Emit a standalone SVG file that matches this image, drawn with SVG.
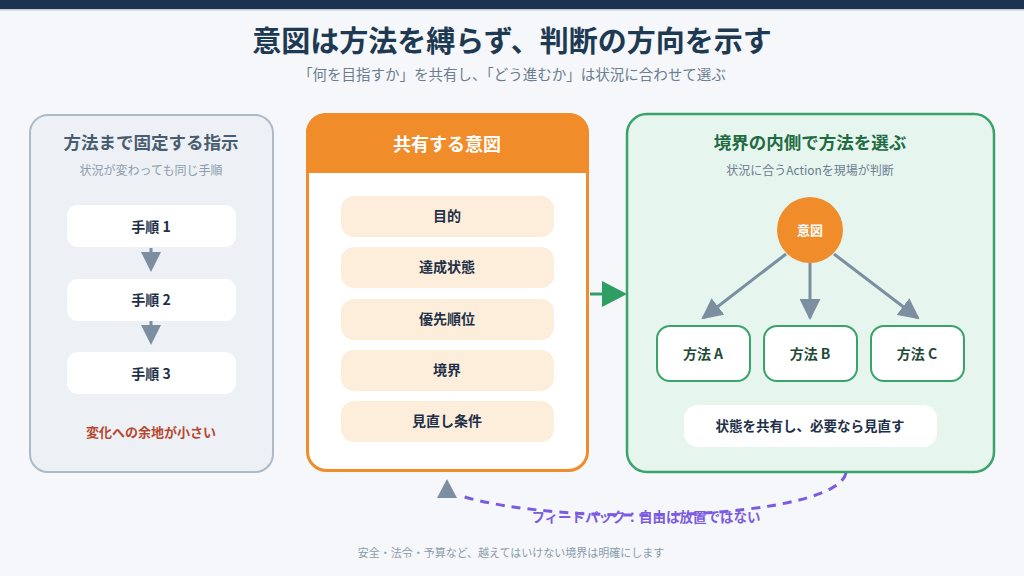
<svg xmlns="http://www.w3.org/2000/svg" width="1024" height="576" viewBox="0 0 1024 576">
<defs>
<style>
text{font-family:"Noto Sans CJK JP","Noto Sans",sans-serif;text-anchor:middle}
.b{font-weight:700}
.step{fill:#fff}
.item{fill:#fdeedb}
.meth{fill:#fff;stroke:#3aa36a;stroke-width:2}
.dk{fill:#1e3048}
</style>
<marker id="ah" viewBox="0 0 10 10" refX="9" refY="5" markerWidth="7" markerHeight="7" markerUnits="strokeWidth" orient="auto"><path d="M0,0 L10,5 L0,10 z" fill="#7b8fa1"/></marker>
</defs>
<rect width="1024" height="576" fill="#f5f7fa"/>
<rect width="1024" height="9" fill="#1b3350"/>
<rect y="9" width="1024" height="1.5" fill="#c4ccd6"/>
<text x="512" y="52" class="b" font-size="29" fill="#1e3a52">意図は方法を縛らず、判断の方向を示す</text>
<text x="512" y="80" font-size="14.5" fill="#6b7d8f">「何を目指すか」を共有し、「どう進むか」は状況に合わせて選ぶ</text>

<g id="fixed">
<rect x="30" y="115" width="243" height="357" rx="18" fill="#edf1f6" stroke="#adbac8" stroke-width="2"/>
<text x="151" y="149" class="b" font-size="17.5" fill="#4a5d70">方法まで固定する指示</text>
<text x="151" y="175" font-size="12" fill="#8b9bab">状況が変わっても同じ手順</text>
<rect class="step" x="67" y="205" width="169" height="42" rx="11"/>
<text x="151" y="232" class="b dk" font-size="14">手順 1</text>
<rect class="step" x="67" y="279" width="169" height="42" rx="11"/>
<text x="151" y="305" class="b dk" font-size="14">手順 2</text>
<rect class="step" x="67" y="352" width="169" height="42" rx="11"/>
<text x="151" y="379" class="b dk" font-size="14">手順 3</text>
<text x="151" y="437" class="b" font-size="13" fill="#b5472e">変化への余地が小さい</text>
</g>

<g id="intent">
<path d="M306,173 V133 A20,20 0 0 1 326,113 H569 A20,20 0 0 1 589,133 V173 Z" fill="#f08c2a"/>
<path d="M307.5,173 H587.5 V451.5 A19,19 0 0 1 568.5,470.5 H326.5 A19,19 0 0 1 307.5,451.5 Z" fill="#fff"/>
<rect x="307.5" y="114.5" width="280" height="356" rx="19" fill="none" stroke="#f08c2a" stroke-width="3"/>
<text x="447" y="151" class="b" font-size="18" fill="#fff">共有する意図</text>
<rect class="item" x="341" y="196" width="213" height="41" rx="13"/>
<text x="447" y="221" class="b dk" font-size="14">目的</text>
<rect class="item" x="341" y="247" width="213" height="41" rx="13"/>
<text x="447" y="272" class="b dk" font-size="14">達成状態</text>
<rect class="item" x="341" y="299" width="213" height="41" rx="13"/>
<text x="447" y="324" class="b dk" font-size="14">優先順位</text>
<rect class="item" x="341" y="350" width="213" height="41" rx="13"/>
<text x="447" y="375" class="b dk" font-size="14">境界</text>
<rect class="item" x="341" y="401" width="213" height="41" rx="13"/>
<text x="447" y="426" class="b dk" font-size="14">見直し条件</text>
</g>

<g id="choose">
<rect x="627" y="114" width="367" height="358" rx="20" fill="#e6f5ee" stroke="#3aa36a" stroke-width="2.5"/>
<text x="810" y="149" class="b" font-size="17.5" fill="#1f6b42">境界の内側で方法を選ぶ</text>
<text x="810" y="175" font-size="12" fill="#6b7d8f">状況に合うActionを現場が判断</text>
</g>
<g id="core">
<circle cx="810" cy="230" r="33" fill="#f08c2a"/>
<text x="810" y="235" class="b" font-size="13" fill="#fff">意図</text>
</g>
<g id="methodA">
<rect class="meth" x="657" y="326" width="93" height="55" rx="13"/>
<text x="703" y="359" class="b" font-size="14" fill="#1f4a38">方法 A</text>
</g>
<g id="methodB">
<rect class="meth" x="764" y="326" width="93" height="55" rx="13"/>
<text x="810" y="359" class="b" font-size="14" fill="#1f4a38">方法 B</text>
</g>
<g id="methodC">
<rect class="meth" x="871" y="326" width="93" height="55" rx="13"/>
<text x="917" y="359" class="b" font-size="14" fill="#1f4a38">方法 C</text>
</g>
<g id="review">
<rect x="684" y="405" width="253" height="42" rx="14" fill="#fff"/>
<text x="810" y="431" class="b dk" font-size="13.5">状態を共有し、必要なら見直す</text>
</g>

<g id="connectors">
<line x1="151" y1="248" x2="151" y2="253" stroke="#7b8fa1" stroke-width="3"/>
<path d="M141,252 L161,252 L151,272 Z" fill="#7b8fa1"/>
<line x1="151" y1="321" x2="151" y2="326" stroke="#7b8fa1" stroke-width="3"/>
<path d="M141,325 L161,325 L151,345 Z" fill="#7b8fa1"/>
<line x1="590" y1="294" x2="604" y2="294" stroke="#2e9e63" stroke-width="3"/>
<path d="M602,281 L627,294 L602,307 Z" fill="#2e9e63"/>
<line x1="786" y1="254" x2="703" y2="318" stroke="#7b8fa1" stroke-width="3" marker-end="url(#ah)"/>
<line x1="810" y1="263" x2="810" y2="318" stroke="#7b8fa1" stroke-width="3" marker-end="url(#ah)"/>
<line x1="834" y1="254" x2="918" y2="318" stroke="#7b8fa1" stroke-width="3" marker-end="url(#ah)"/>
<path d="M846,473 C836,520 560,528 458,495" fill="none" stroke="#7b5ce0" stroke-width="3" stroke-dasharray="9 7"/>
<path d="M437,498 L457,498 L447,479 Z" fill="#7b8fa1"/>
<text x="646" y="522" class="b" font-size="13.5" fill="#7b5ce0">フィードバック：自由は放置ではない</text>
</g>
<text x="511" y="557" font-size="11" fill="#8b9bab">安全・法令・予算など、越えてはいけない境界は明確にします</text>
</svg>
